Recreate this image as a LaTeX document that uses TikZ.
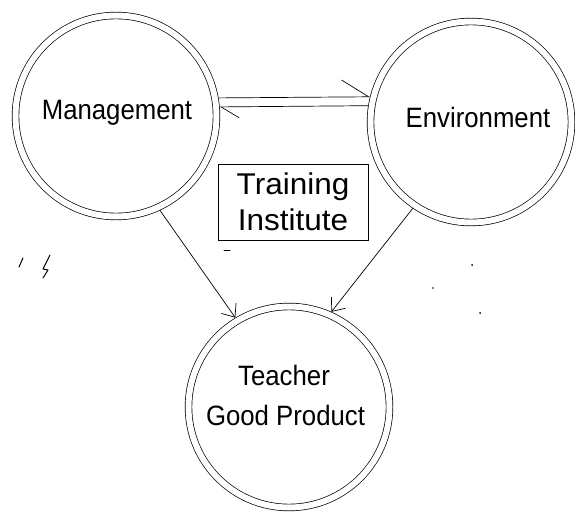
\documentclass[tikz,border=0pt]{standalone}
\usepackage{fontspec}
\setmainfont{Liberation Sans}
\newfontfamily\condfont[FakeStretch=0.92]{Liberation Sans}
\newfontfamily\boxfont[FakeStretch=1.05]{Liberation Sans}
\usetikzlibrary{arrows.meta}
\begin{document}
\begin{tikzpicture}[x=1pt,y=1pt,
  ring/.style={circle, draw, double, double distance=6pt, line width=0.7pt,
    minimum size=201pt, inner sep=0pt, outer sep=3.7pt},
  lbl/.style={font=\condfont\fontsize{28}{40}\selectfont, anchor=base, inner sep=0pt},
  conn/.style={line width=0.7pt},
  tip/.style={-{Straight Barb[length=11pt,width=18pt]}},
  harpbig/.style={-{Straight Barb[left,length=27pt,width=34pt]}},
  harpsmall/.style={-{Straight Barb[left,length=18pt,width=22pt]}},
  noise/.style={line width=1pt, line cap=round, line join=round}]
\useasboundingbox (0,0) rectangle (575,512);
\node[ring] (M) at (116,396) {};
\node[ring] (E) at (471,390) {};
\node[ring] (T) at (289,105) {};
\node[lbl] (Ml) at (117,392) {Management};
\node[lbl] (El) at (478,384) {Environment};
\node[lbl] (Tl1) at (284,127) {Teacher};
\node[lbl] (Tl2) at (285.5,87) {Good Product};
\node[draw, line width=0.7pt, minimum width=150pt, minimum height=76pt,
  align=center, inner sep=0pt, font=\boxfont\fontsize{30}{36}\selectfont]
  (TI) at (293,310) {Training\\Institute};
\draw[conn,harpbig] (M.10) -- (E.166);
\draw[conn,harpsmall] (E.171) -- (M.5);
\draw[conn,tip] (M.-65) -- (T.121);
\draw[conn,tip] (E.-124) -- (T.66);
% scan marks
\draw[noise] (23,254) -- (19,245);
\draw[noise] (50,257) -- (43,243) -- (48,242) -- (43,234);
\fill (472,247) circle (1pt);
\fill (433,224) circle (0.8pt);
\fill (480,199) circle (1pt);
\draw[noise] (224,262) -- (230,262);
\end{tikzpicture}
\end{document}
